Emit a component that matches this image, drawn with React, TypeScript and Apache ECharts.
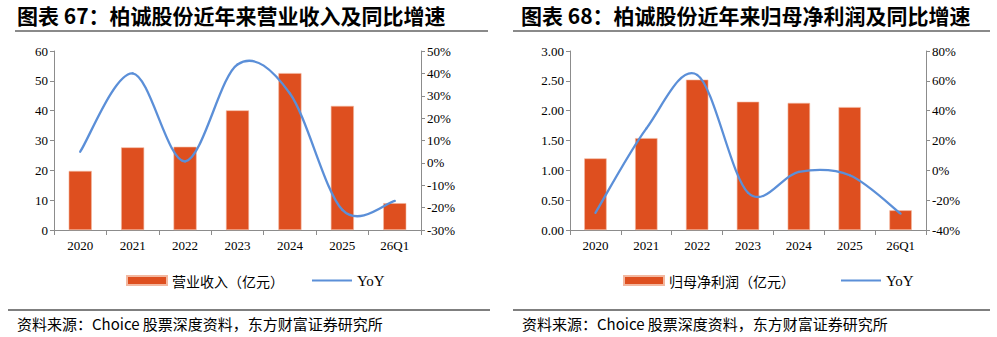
import React, { useEffect, useRef } from "react";
import * as echarts from "echarts";

const categories = ["2020", "2021", "2022", "2023", "2024", "2025", "26Q1"];
const revenue = [19.8, 27.7, 27.9, 40.1, 52.6, 41.6, 9.0];
const revenueYoY = [5, 40, 0.7, 44, 31, -21, -17];
const netProfit = [1.2, 1.54, 2.52, 2.15, 2.13, 2.06, 0.33];
const netProfitYoY = [-28.5, 28, 64, -15, -1, -3.3, -29];

const leftTitle = "图表 67：柏诚股份近年来营业收入及同比增速";
const rightTitle = "图表 68：柏诚股份近年来归母净利润及同比增速";
const source = "资料来源：Choice 股票深度资料，东方财富证券研究所";

const BAR = "#DE4F1F";
const LINE = "#5B8FD8";
const AXIS = "#8c8c8c";
const SERIF = "'Liberation Serif', 'Times New Roman', serif";
const CJK = "'Noto Sans CJK SC', sans-serif";
const LINE_ICON = "path://M0,0H40V2.2H0Z";

// Excel-like smoothed line (Catmull-Rom Bezier), drawn through the axis scales
function smoothLine(values: number[]) {
  return (params: any, api: any) => {
    const i = params.dataIndex;
    const n = values.length;
    if (i >= n - 1) return null;
    const pt = (j: number) => {
      const k = Math.max(0, Math.min(n - 1, j));
      return api.coord([k, values[k]]);
    };
    const p0 = pt(i - 1);
    const p1 = pt(i);
    const p2 = pt(i + 1);
    const p3 = pt(i + 2);
    const c1 = [p1[0] + (p2[0] - p0[0]) / 6, p1[1] + (p2[1] - p0[1]) / 6];
    const c2 = [p2[0] - (p3[0] - p1[0]) / 6, p2[1] - (p3[1] - p1[1]) / 6];
    return {
      type: "path",
      shape: {
        pathData: `M${p1[0]},${p1[1]} C${c1[0]},${c1[1]} ${c2[0]},${c2[1]} ${p2[0]},${p2[1]}`,
      },
      style: { stroke: LINE, fill: "none", lineWidth: 2.3, lineCap: "round" },
    };
  };
}

export default function App() {
  const ref = useRef<HTMLDivElement>(null);
  useEffect(() => {
    document.body.style.margin = "0";
    const chart = echarts.init(ref.current!, null, { renderer: "svg" });
    const xAxisBase = (gridIndex: number) => ({
      type: "category",
      gridIndex,
      data: categories,
      axisLine: { lineStyle: { color: AXIS, width: 1 } },
      axisTick: { show: true, length: 5, lineStyle: { color: AXIS } },
      axisLabel: { color: "#000", fontFamily: SERIF, fontSize: 13, margin: 9 },
    });
    const labelBase = { color: "#000", fontFamily: SERIF, fontSize: 13, margin: 6 };
    const yAxisBase = (gridIndex: number, position: string) => ({
      type: "value",
      gridIndex,
      position,
      splitLine: { show: false },
      axisLine: { show: true, lineStyle: { color: AXIS, width: 1 } },
      axisTick: { show: true, length: 4, lineStyle: { color: AXIS } },
      axisLabel: { ...labelBase },
    });
    const legendText = {
      color: "#000",
      fontSize: 14,
      fontFamily: CJK,
      rich: { s: { fontFamily: SERIF, fontSize: 15, color: "#000" } },
    };
    const legendFmt = (name: string) => (name.trim() === "YoY" ? "{s|YoY}" : name);
    const lineData = (vals: number[]) => vals.map((v, i) => [i, v]);
    chart.setOption({
      animation: false,
      graphic: [
        { type: "text", left: 17, top: 4, style: { text: leftTitle, font: `bold 21px ${CJK}`, fill: "#000" } },
        { type: "text", left: 521, top: 4, style: { text: rightTitle, font: `bold 21px ${CJK}`, fill: "#000" } },
        { type: "line", shape: { x1: 15, y1: 31, x2: 488, y2: 31 }, style: { stroke: "#8a8a8a", lineWidth: 2 } },
        { type: "line", shape: { x1: 513, y1: 31, x2: 990, y2: 31 }, style: { stroke: "#8a8a8a", lineWidth: 2 } },
        { type: "line", shape: { x1: 8, y1: 310, x2: 490, y2: 310 }, style: { stroke: "#555", lineWidth: 1.5 } },
        { type: "line", shape: { x1: 513, y1: 310, x2: 990, y2: 310 }, style: { stroke: "#555", lineWidth: 1.5 } },
        { type: "text", left: 17, top: 316, style: { text: source, font: `15px ${CJK}`, fill: "#000" } },
        { type: "text", left: 522, top: 316, style: { text: source, font: `15px ${CJK}`, fill: "#000" } },
      ],
      legend: [
        {
          data: [
            { name: "营业收入（亿元）", icon: "rect" },
            { name: "YoY", icon: LINE_ICON },
          ],
          left: 126,
          top: 273,
          padding: 0,
          itemWidth: 40,
          itemHeight: 9,
          itemGap: 28,
          formatter: legendFmt,
          textStyle: legendText,
        },
        {
          data: [
            { name: "归母净利润（亿元）", icon: "rect" },
            { name: "YoY ", icon: LINE_ICON },
          ],
          left: 623,
          top: 273,
          padding: 0,
          itemWidth: 40,
          itemHeight: 9,
          itemGap: 46,
          formatter: legendFmt,
          textStyle: legendText,
        },
      ],
      grid: [
        { left: 54, right: 576, top: 51, height: 179 },
        { left: 570, right: 71, top: 51, height: 179 },
      ],
      xAxis: [xAxisBase(0), xAxisBase(1)],
      yAxis: [
        { ...yAxisBase(0, "left"), min: 0, max: 60, interval: 10 },
        {
          ...yAxisBase(0, "right"),
          min: -30,
          max: 50,
          interval: 10,
          axisLabel: { ...labelBase, formatter: (v: number) => `${v}%` },
        },
        {
          ...yAxisBase(1, "left"),
          min: 0,
          max: 3,
          interval: 0.5,
          axisLabel: { ...labelBase, formatter: (v: number) => v.toFixed(2) },
        },
        {
          ...yAxisBase(1, "right"),
          min: -40,
          max: 80,
          interval: 20,
          axisLabel: { ...labelBase, formatter: (v: number) => `${v}%` },
        },
      ],
      series: [
        {
          name: "营业收入（亿元）",
          type: "bar",
          xAxisIndex: 0,
          yAxisIndex: 0,
          data: revenue,
          barWidth: "44%",
          itemStyle: { color: BAR, borderColor: "#f3b8a0", borderWidth: 0.6 },
        },
        {
          name: "YoY",
          type: "custom",
          xAxisIndex: 0,
          yAxisIndex: 1,
          data: lineData(revenueYoY),
          encode: { x: 0, y: 1 },
          renderItem: smoothLine(revenueYoY),
          itemStyle: { color: LINE },
          z: 3,
        },
        {
          name: "归母净利润（亿元）",
          type: "bar",
          xAxisIndex: 1,
          yAxisIndex: 2,
          data: netProfit,
          barWidth: "44%",
          itemStyle: { color: BAR, borderColor: "#f3b8a0", borderWidth: 0.6 },
        },
        {
          name: "YoY ",
          type: "custom",
          xAxisIndex: 1,
          yAxisIndex: 3,
          data: lineData(netProfitYoY),
          encode: { x: 0, y: 1 },
          renderItem: smoothLine(netProfitYoY),
          itemStyle: { color: LINE },
          z: 3,
        },
      ],
    });
    return () => chart.dispose();
  }, []);
  return <div ref={ref} style={{ width: 997, height: 337 }} />;
}
